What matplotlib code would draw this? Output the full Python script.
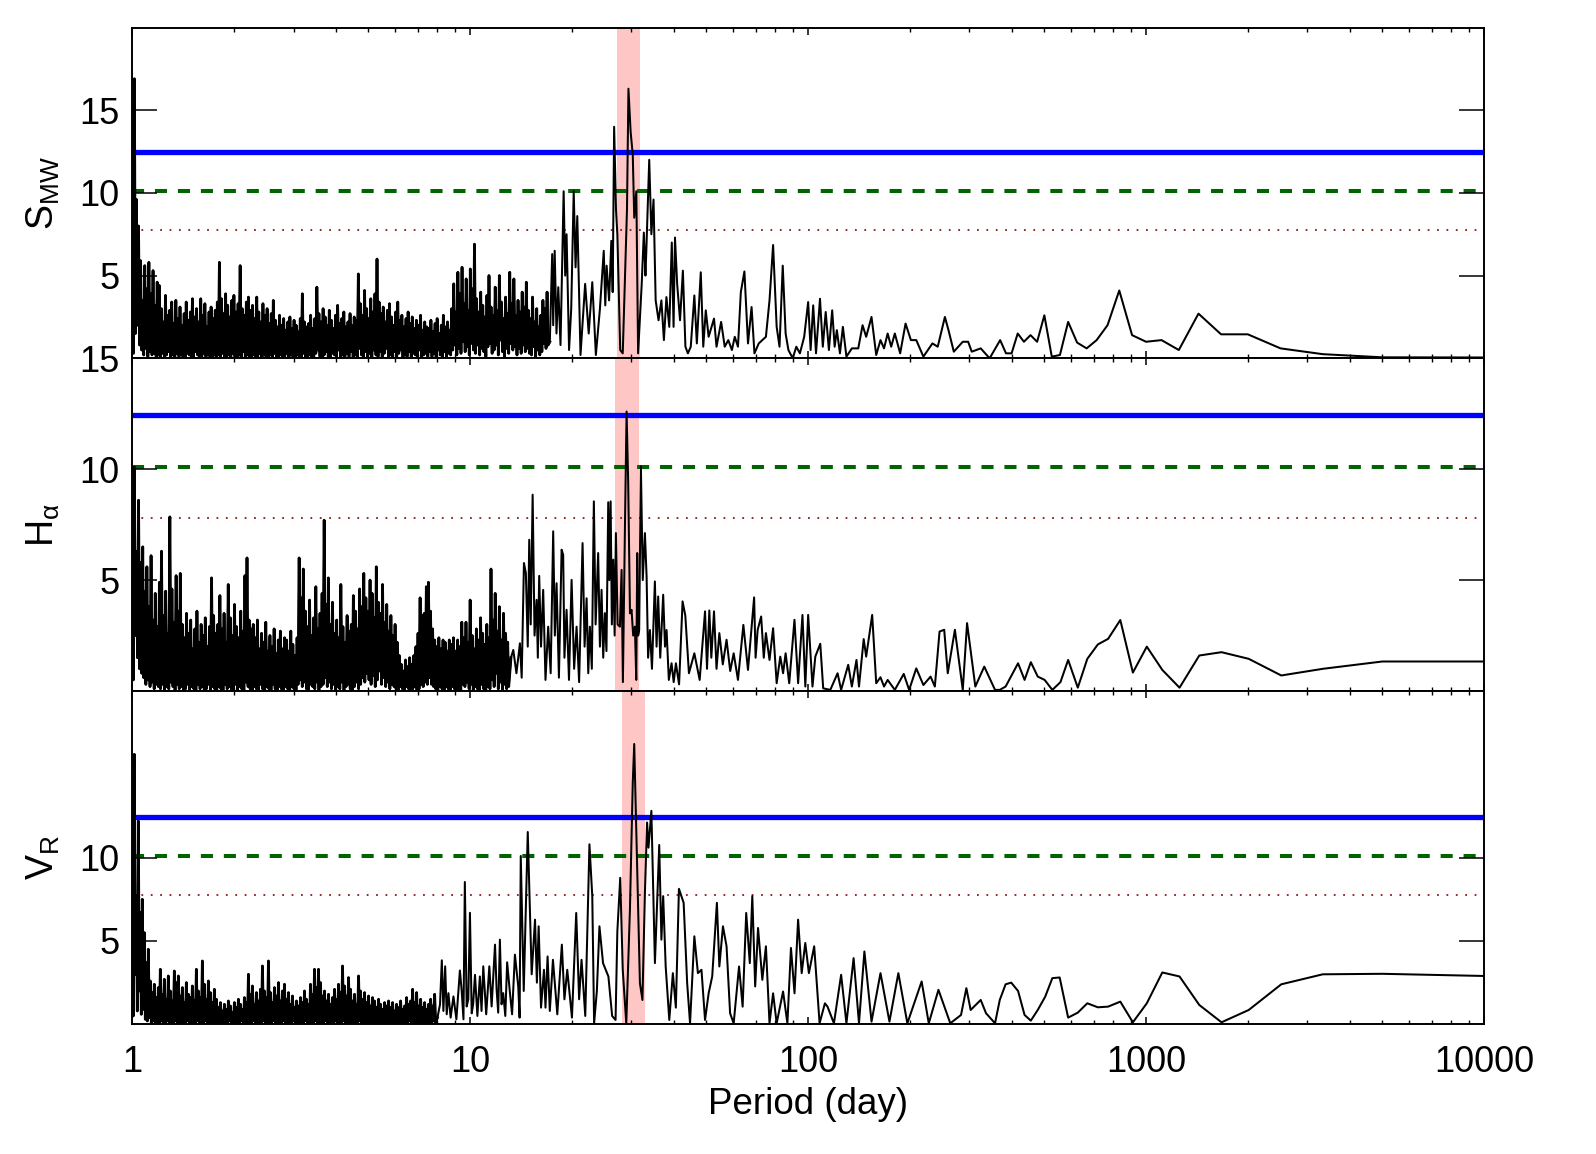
import numpy as np
import matplotlib
matplotlib.use("Agg")
import matplotlib.pyplot as plt
from matplotlib.ticker import LogLocator, NullLocator, FixedLocator, FuncFormatter, NullFormatter

plt.rcParams['font.family'] = ['Liberation Sans', 'DejaVu Sans']
plt.rcParams['mathtext.fontset'] = 'custom'
plt.rcParams['mathtext.rm'] = 'Liberation Sans'
plt.rcParams['mathtext.it'] = 'Liberation Sans:italic'
plt.rcParams['mathtext.sf'] = 'Liberation Sans'

# ---------------- data ----------------
panel_labels = [r'S$_{\rm MW}$', r'H$_{\rm α}$', r'V$_{\rm R}$']
x_tick_values = [1, 10, 100, 1000, 10000]
x_tick_labels = ['1', '10', '100', '1000', '10000']
fap_levels = [12.45, 10.12, 7.78]          # blue solid, green dashed, red dotted
y_limits = [20, 15, 20]
y_ticks = [[5, 10, 15], [5, 10, 15], [5, 10]]
rotation_band = [(27.2, 31.9), (26.8, 31.6), (28.2, 33.0)]

# ---- S_MW ----
smw_forest_range = (1.0, 17.0)
smw_forest_peaks = [6.4, 16.9, 9.6, 8.0, 5.9, 3.5, 5.6, 4.2, 5.8, 3.9, 5.3, 3.2, 4.6,
    4.4, 3.0, 2.2, 3.8, 2.6, 2.9, 3.4, 2.1, 3.5, 2.4, 3.1, 2.0, 2.7, 3.4, 2.3, 2.8, 3.6, 2.5, 3.0, 2.2, 3.6, 2.6, 3.3, 1.9, 2.8, 3.1, 2.4,
    2.9, 3.4, 5.8, 3.6, 2.7, 3.9, 3.2, 2.5, 3.5, 3.8, 2.8, 3.3, 5.6, 3.0, 2.6, 3.4, 3.7, 2.9,
    3.2, 2.4, 3.7, 2.8, 2.2, 3.3, 2.6, 3.0, 2.1, 2.7, 3.5, 2.3, 1.9, 2.6, 2.0, 2.4, 1.7, 2.2, 2.5, 1.8, 2.3, 2.0, 1.6, 2.4, 3.9, 2.2, 1.9,
    2.1, 2.6, 1.8, 2.4, 4.3, 2.7, 2.2, 3.0, 2.5, 2.0, 2.9, 2.3, 1.8, 2.6, 3.2, 2.1, 2.4, 2.8, 1.9, 2.2, 2.7, 2.0, 2.5, 2.3,
    5.1, 3.3, 2.6, 4.1, 3.0, 2.4, 3.6, 2.8, 3.9, 6.0, 3.4, 2.7, 3.1, 2.2, 2.9, 3.3, 2.5, 2.0, 2.8, 3.4, 2.3, 2.6, 1.9, 2.4, 2.8, 2.1, 2.5, 1.8, 2.3, 2.0, 2.6, 1.7, 2.2, 1.9,
    1.8, 2.3, 1.6, 2.1, 2.4, 1.5, 2.0, 2.6, 1.9, 2.2, 1.7,
    3.0, 4.5, 2.8, 5.2, 3.9, 5.5, 3.3, 4.8, 2.9, 5.4, 4.2, 6.9, 3.6, 2.8, 4.0, 3.2, 2.5, 3.8, 5.0, 3.1, 2.6, 4.3, 2.9, 5.0, 3.4, 2.4, 3.7, 2.7, 5.2, 3.3, 4.8, 2.6, 3.5, 2.8, 4.0, 3.1,
    4.6, 2.9, 2.4, 3.7, 2.2, 3.0, 1.9, 2.6, 3.5, 3.0, 4.0]
smw_forest_troughs = [0.3, 1.5, 2.0, 0.8, 0.5, 0.2, 0.6, 0.1, 0.4, 0.2, 0.3, 0.1, 0.2,
    0.1, 0.3, 0.0, 0.2, 0.4, 0.1, 0.2, 0.0, 0.3, 0.1, 0.2, 0.0, 0.1, 0.3, 0.2, 0.0, 0.1, 0.4, 0.2, 0.1, 0.0, 0.3, 0.1, 0.2, 0.0, 0.1, 0.2,
    0.0, 0.2, 0.1, 0.3, 0.0, 0.1, 0.2, 0.0, 0.3, 0.1, 0.0, 0.2, 0.1, 0.4, 0.0, 0.2, 0.1, 0.0,
    0.2, 0.0, 0.1, 0.3, 0.0, 0.2, 0.1, 0.0, 0.2, 0.1, 0.3, 0.0, 0.1, 0.2, 0.0, 0.1, 0.3, 0.0, 0.2, 0.1, 0.0, 0.2, 0.1, 0.0, 0.3, 0.1, 0.0,
    0.2, 0.1, 0.0, 0.3, 0.5, 0.1, 0.0, 0.2, 0.4, 0.1, 0.0, 0.3, 0.2, 0.0, 0.5, 0.1, 0.2, 0.0, 0.3, 0.1, 0.4, 0.0, 0.2, 0.1,
    0.6, 0.2, 0.0, 0.4, 0.1, 0.3, 0.0, 0.5, 0.2, 0.1, 0.4, 0.0, 0.3, 0.6, 0.1, 0.2, 0.0, 0.4, 0.1, 0.3, 0.5, 0.0, 0.2, 0.1, 0.4, 0.0, 0.3, 0.2, 0.1, 0.5, 0.0, 0.2, 0.3, 0.1,
    0.4, 0.1, 0.3, 0.0, 0.5, 0.2, 0.1, 0.4, 0.0, 0.3, 0.2,
    0.5, 0.8, 0.2, 0.6, 0.3, 1.0, 0.4, 0.7, 0.2, 0.9, 0.5, 0.3, 0.8, 0.2, 0.6, 0.4, 0.1, 0.7, 0.9, 0.3, 0.5, 0.8, 0.2, 1.1, 0.4, 0.1, 0.6, 0.3, 0.9, 0.5, 0.7, 0.2, 0.6, 0.3, 0.8, 0.4,
    0.6, 0.3, 0.2, 0.7, 0.1, 0.5, 0.2, 0.4, 0.9, 0.6, 0.8]
smw_period = [17.2, 17.48, 17.6, 17.78, 18.0, 18.22, 18.5, 18.9, 19.1, 19.28,
    19.61, 19.9, 20.24, 20.5, 20.74, 21.2, 21.88, 22.42, 22.97, 23.54,
    24.2, 24.84, 25.1, 25.33, 25.76, 26.15, 26.4, 26.66, 27.0, 27.25,
    27.79, 28.27, 28.83, 29.1, 29.39, 29.83, 30.27, 30.57, 31.01, 31.39,
    32.17, 32.64, 33.0, 33.2, 33.86, 34.36, 34.87, 35.38, 36.08, 36.79,
    37.42, 38.07, 38.82, 39.49, 39.97, 40.36, 40.96, 41.77, 42.59, 43.33,
    44.07, 44.94, 46.05, 46.84, 48.11, 48.93, 49.78, 50.76, 52.65, 53.56,
    55.27, 56.64, 58.04, 59.48, 60.65, 61.99, 63.21, 64.77, 66.37, 68.01,
    69.35, 71.42, 74.99, 76.85, 78.75, 80.69, 82.28, 84.10, 85.77, 87.42,
    90.01, 92.26, 94.54, 97.34, 100.0, 101.7, 103.5, 105.5, 108.4, 110.5,
    112.7, 115.2, 117.8, 119.8, 121.6, 124.2, 126.7, 129.8, 134.7, 140.7,
    144.9, 148.5, 154.0, 159.0, 163.7, 167.7, 171.9, 176.1, 180.5, 187.2,
    194.2, 201.4, 208.9, 219.3, 233.2, 241.8, 253.9, 260.2, 269.8, 286.8,
    297.5, 304.9, 324.1, 344.4, 370, 385, 400, 417, 435, 455,
    476, 500, 526, 556, 588, 625, 667, 714, 769, 833,
    909, 1000, 1111, 1250, 1429, 1667, 2000, 2500, 3333, 5000,
    10000]
smw_power = [1.0, 6.3, 2.0, 6.5, 1.5, 4.3, 0.8, 10.1, 5.0, 7.5,
    0.5, 3.0, 10.1, 5.5, 8.6, 0.2, 4.5, 1.5, 4.6, 0.2,
    3.0, 6.5, 3.2, 5.6, 3.5, 7.1, 4.0, 14.0, 9.0, 7.5,
    0.5, 0.3, 6.3, 9.0, 16.3, 13.7, 12.3, 8.5, 10.1, 0.3,
    4.5, 7.6, 5.0, 6.5, 12.0, 7.5, 9.6, 3.5, 2.3, 3.5,
    1.1, 3.7, 1.9, 7.0, 1.9, 7.3, 4.5, 2.3, 5.3, 0.7,
    0.3, 0.7, 3.8, 0.9, 5.2, 0.7, 2.9, 1.3, 2.4, 0.7,
    2.2, 0.7, 1.1, 0.5, 1.3, 0.7, 4.0, 5.25, 0.9, 3.1,
    0.3, 0.9, 1.3, 3.5, 6.85, 1.9, 0.7, 5.6, 1.5, 0.5,
    0.0, 0.7, 0.3, 1.3, 3.4, 0.5, 3.2, 0.3, 3.6, 0.7,
    2.8, 0.5, 2.9, 0.7, 1.7, 0.3, 1.9, 0.1, 0.6, 0.6,
    2.0, 1.3, 2.5, 0.2, 1.1, 0.6, 1.5, 0.7, 1.5, 0.3,
    2.1, 1.1, 1.1, 0.1, 0.9, 0.7, 2.5, 1.7, 0.4, 1.0,
    1.0, 0.4, 0.6, 0.0, 1.1, 0.3, 0.3, 1.5, 1.0, 1.4,
    1.0, 2.6, 0.1, 0.2, 2.2, 0.95, 0.6, 1.1, 2.0, 4.1,
    1.4, 1.0, 1.1, 0.5, 2.7, 1.45, 1.45, 0.6, 0.25, 0.06,
    0.05]

# ---- H_alpha ----
ha_forest_range = (1.0, 13.0)
ha_forest_peaks = [5.0, 10.1, 6.3, 8.6, 5.8, 6.5, 4.5, 5.6, 3.8, 6.1, 3.2, 4.4, 2.9,
    4.9, 6.3, 3.4, 4.5, 2.6, 7.85, 4.6, 3.1, 5.2, 3.6,
    5.3, 3.0, 2.4, 3.5, 2.6, 3.2, 1.9, 2.8, 3.6, 2.2, 3.0, 2.5, 3.3, 2.0, 2.9, 5.1, 3.4,
    2.6, 3.0, 4.3, 2.8, 3.5, 2.2, 4.8, 3.3, 2.5, 3.9, 2.9, 2.4, 3.6, 2.7, 5.2, 6.0, 3.2, 2.8,
    3.0, 2.4, 3.2, 1.9, 2.6, 2.2, 3.1, 1.8, 2.5, 2.0, 2.8, 1.7, 2.3, 2.7, 1.9, 2.4,
    2.3, 1.8, 2.7, 2.1, 1.6, 2.4, 6.0, 4.2, 5.5, 3.6, 2.9, 4.1, 2.5, 3.3, 4.7, 2.8, 3.5, 4.4,
    7.7, 3.9, 5.1, 3.0, 4.0, 2.6, 3.2, 2.4, 4.8, 2.9, 2.2, 3.4, 2.7, 3.0, 4.3, 3.6, 2.8,
    4.6, 3.8, 5.3, 4.2, 3.6, 5.0, 4.4, 3.3, 5.6, 4.0, 3.5, 4.8, 3.1, 3.9, 2.7, 3.4, 2.5,
    3.0, 2.2, 1.6, 1.2, 0.9, 1.4, 1.1, 1.5, 1.2, 1.6, 2.0, 2.6, 4.2, 3.4, 3.5, 4.7, 4.9,
    3.6, 2.8, 2.3, 2.0, 2.4, 1.9, 2.3, 2.2, 1.8, 2.3, 2.1, 2.4, 1.8, 2.3, 2.0, 3.1, 2.4,
    3.1, 2.2, 4.1, 2.5, 1.9, 2.8, 2.3, 3.3, 2.6, 2.1, 3.0, 2.4, 5.5, 3.2, 4.4, 2.7, 3.8, 2.3, 3.5, 2.6, 2.2]
ha_forest_troughs = [0.5, 2.5, 1.5, 1.0, 0.8, 0.6, 0.3, 0.5, 0.2, 0.4, 0.1, 0.3, 0.2,
    0.1, 0.3, 0.0, 0.2, 0.1, 0.4, 0.2, 0.0, 0.3, 0.1,
    0.2, 0.0, 0.1, 0.3, 0.0, 0.2, 0.1, 0.0, 0.3, 0.1, 0.2, 0.0, 0.1, 0.3, 0.0, 0.2, 0.1,
    0.0, 0.2, 0.1, 0.0, 0.3, 0.1, 0.2, 0.0, 0.1, 0.3, 0.0, 0.2, 0.1, 0.0, 0.4, 0.2, 0.1, 0.0,
    0.2, 0.1, 0.0, 0.3, 0.1, 0.0, 0.2, 0.1, 0.0, 0.3, 0.1, 0.0, 0.2, 0.1, 0.0, 0.2,
    0.1, 0.0, 0.2, 0.1, 0.0, 0.3, 0.5, 0.2, 0.4, 0.1, 0.0, 0.3, 0.2, 0.1, 0.4, 0.0, 0.2, 0.3,
    0.6, 0.2, 0.4, 0.1, 0.3, 0.0, 0.2, 0.1, 0.4, 0.0, 0.2, 0.3, 0.1, 0.0, 0.2, 0.4, 0.1,
    0.3, 0.6, 0.4, 0.8, 0.5, 0.3, 0.7, 0.2, 0.5, 0.9, 0.3, 0.6, 0.2, 0.4, 0.1, 0.3, 0.2,
    0.1, 0.0, 0.2, 0.1, 0.0, 0.2, 0.1, 0.0, 0.1, 0.2, 0.0, 0.1, 0.3, 0.2, 0.4, 0.3, 0.6,
    0.3, 0.2, 0.1, 0.0, 0.2, 0.1, 0.0, 0.2, 0.1, 0.0, 0.2, 0.1, 0.0, 0.1, 0.0, 0.3, 0.2,
    0.4, 0.1, 0.3, 0.0, 0.2, 0.1, 0.0, 0.3, 0.1, 0.0, 0.2, 0.1, 0.5, 0.2, 0.8, 0.1, 0.4, 0.0, 0.3, 0.1, 0.2]
ha_period = [13.2, 13.41, 13.7, 14.03, 14.2, 14.42, 14.61, 14.8, 14.95, 15.1,
    15.30, 15.5, 15.72, 15.85, 16.00, 16.2, 16.44, 16.7, 17.01, 17.3,
    17.60, 17.8, 18.01, 18.3, 18.64, 18.84, 19.0, 19.28, 19.6, 19.95,
    20.3, 20.64, 21.0, 21.50, 21.8, 22.10, 22.35, 22.60, 22.9, 23.22,
    23.5, 23.91, 24.2, 24.47, 24.75, 25.03, 25.3, 25.61, 25.8, 26.03,
    26.25, 26.50, 26.75, 26.98, 27.3, 27.73, 28.05, 28.3, 28.69, 29.02,
    29.34, 29.7, 30.02, 30.35, 30.71, 31.0, 31.20, 31.4, 31.62, 31.99,
    32.4, 32.88, 33.26, 33.6, 34.02, 34.5, 35.19, 35.6, 35.99, 36.5,
    37.24, 37.7, 38.11, 38.7, 39.43, 40.0, 40.61, 41.5, 42.5, 43.3,
    44.38, 46.05, 47.75, 49.53, 50.2, 51.0, 51.7, 52.65, 53.56, 54.6,
    55.9, 57.35, 58.8, 60.2, 61.99, 64.31, 66.37, 69.2, 69.9, 70.9,
    72.6, 73.9, 74.99, 76.85, 78.75, 80.69, 82.7, 84.3, 85.77, 87.9,
    91.1, 93.4, 96.2, 98.1, 100.0, 103.0, 105.0, 108.6, 110.8, 116.3,
    122.2, 125.2, 131.4, 134.7, 139.0, 141.4, 146.0, 148.5, 154.7, 159.0,
    163.7, 167.7, 171.9, 180.5, 191.8, 199.0, 208.9, 219.3, 230.3, 237.1,
    244.8, 252.7, 258.9, 271.8, 286.8, 295.3, 312.4, 332.0, 357.3, 369,
    384, 418, 437, 456, 478, 501, 528, 558, 588, 628,
    670, 720, 772, 839, 914, 1005, 1117, 1256, 1437, 1672,
    2013, 2512, 3333, 5000, 10000]
ha_power = [1.5, 1.85, 0.8, 2.15, 0.6, 5.77, 5.31, 2.0, 6.82, 3.0,
    8.85, 2.5, 4.11, 1.5, 5.19, 2.0, 4.56, 0.5, 2.9, 0.8,
    7.2, 2.5, 4.86, 0.6, 6.37, 6.14, 1.5, 3.66, 0.5, 5.01,
    1.0, 2.9, 0.4, 6.67, 2.0, 4.18, 0.8, 2.9, 1.0, 8.55,
    3.0, 6.22, 2.0, 4.56, 1.5, 3.51, 1.8, 8.51, 5.0, 8.55,
    3.0, 5.92, 2.5, 7.12, 3.0, 2.9, 5.46, 0.4, 7.27, 12.6,
    9.38, 3.5, 3.66, 2.5, 2.9, 0.5, 6.22, 2.5, 2.75, 10.13,
    5.0, 7.12, 5.16, 1.5, 2.75, 1.0, 4.94, 2.0, 4.26, 1.5,
    4.34, 2.0, 2.75, 0.5, 1.25, 0.4, 1.25, 0.3, 4.04, 3.4,
    0.8, 1.7, 0.5, 3.59, 1.0, 3.63, 1.5, 3.59, 1.0, 2.61,
    1.2, 2.31, 0.9, 1.70, 0.5, 2.98, 0.95, 4.22, 1.5, 2.76,
    3.36, 1.5, 2.61, 1.40, 2.83, 0.35, 1.55, 0.8, 1.70, 0.35,
    3.21, 0.35, 3.43, 0.20, 3.43, 0.20, 1.55, 2.13, 0.12, 0.05,
    0.80, 0.05, 1.18, 0.20, 1.40, 0.20, 2.34, 1.55, 3.43, 0.35,
    0.62, 0.20, 0.50, 0.05, 0.77, 0.05, 1.02, 0.27, 0.65, 0.2,
    2.68, 2.76, 0.80, 2.76, 0.05, 3.06, 0.20, 1.10, 0.05, 0.05,
    0.2, 1.25, 0.5, 1.3, 0.65, 0.5, 0.05, 0.4, 1.4, 0.15,
    1.45, 2.1, 2.35, 3.2, 0.83, 2.0, 0.95, 0.15, 1.6, 1.75,
    1.45, 0.7, 1.0, 1.33, 1.33]

# ---- V_R ----
vr_forest_range = (1.0, 7.9)
vr_forest_peaks = [8.7, 16.2, 7.7, 12.2, 6.7, 7.5, 5.5, 3.7, 4.5, 2.6, 1.9, 2.4, 1.6,
    2.2, 3.3, 1.8, 2.7, 1.5, 2.9, 2.0, 1.4, 3.2, 2.5, 2.9,
    1.7, 2.2, 1.3, 2.5, 1.8, 1.6, 2.3, 1.4, 3.3, 2.0, 1.6, 3.8, 2.4, 1.5, 2.6, 1.9, 1.3,
    2.1, 1.5, 1.0, 1.3, 0.8, 1.2, 0.9, 1.4, 1.1, 0.7, 1.3, 1.0, 1.5, 1.2, 0.9, 1.6, 1.3, 3.0,
    1.8, 2.3, 1.2, 1.9, 1.4, 2.1, 3.5, 2.0, 1.6, 3.8, 1.9, 1.3, 2.2, 1.7, 2.5, 1.4, 2.0,
    2.4, 1.5, 1.9, 1.2, 1.7, 1.0, 1.4, 1.1, 1.6, 1.3, 2.0, 1.5, 1.2, 2.4, 1.8, 3.3, 2.2, 3.3,
    2.5, 1.7, 2.0, 1.4, 1.8, 1.2, 1.6, 2.1, 1.5, 2.4, 1.9, 3.5, 2.3, 1.7, 2.8, 2.1, 1.4,
    1.8, 1.2, 2.9, 2.0, 1.5, 1.9, 1.3, 1.7, 1.1, 1.6, 1.4, 1.0, 1.5, 1.2, 0.9, 1.3, 1.1, 1.4,
    1.0, 1.3, 0.8, 1.2, 1.0, 1.4, 0.9, 1.1, 1.6, 1.2, 1.4, 2.1, 1.3, 1.9, 1.1, 1.5, 1.0, 1.3, 0.9, 1.2, 1.5, 1.1, 1.8]
vr_forest_troughs = [0.5, 3.0, 0.8, 2.0, 0.6, 0.9, 0.3, 0.2, 0.4, 0.1, 0.2, 0.0, 0.1,
    0.0, 0.2, 0.1, 0.0, 0.2, 0.1, 0.0, 0.1, 0.2, 0.0, 0.1,
    0.0, 0.1, 0.0, 0.2, 0.1, 0.0, 0.1, 0.0, 0.2, 0.1, 0.0, 0.1, 0.2, 0.0, 0.1, 0.0, 0.1,
    0.0, 0.1, 0.0, 0.1, 0.0, 0.1, 0.0, 0.2, 0.0, 0.1, 0.0, 0.1, 0.0, 0.2, 0.0, 0.1, 0.0, 0.1,
    0.0, 0.2, 0.1, 0.0, 0.1, 0.0, 0.2, 0.1, 0.0, 0.1, 0.0, 0.2, 0.1, 0.0, 0.1, 0.0, 0.2,
    0.1, 0.0, 0.1, 0.0, 0.2, 0.0, 0.1, 0.0, 0.1, 0.0, 0.2, 0.1, 0.0, 0.1, 0.0, 0.2, 0.1, 0.0,
    0.1, 0.0, 0.2, 0.0, 0.1, 0.0, 0.1, 0.2, 0.0, 0.1, 0.0, 0.2, 0.1, 0.0, 0.1, 0.0, 0.1,
    0.0, 0.1, 0.2, 0.0, 0.1, 0.0, 0.1, 0.0, 0.1, 0.0, 0.1, 0.0, 0.1, 0.0, 0.0, 0.1, 0.0, 0.1,
    0.0, 0.1, 0.0, 0.1, 0.0, 0.1, 0.0, 0.1, 0.0, 0.2, 0.0, 0.1, 0.0, 0.1, 0.0, 0.1, 0.0, 0.1, 0.0, 0.1, 0.0, 0.2, 0.1]
vr_period = [8.0, 8.14, 8.24, 8.33, 8.43, 8.52, 8.62, 8.75, 8.92, 9.1,
    9.32, 9.43, 9.55, 9.64, 9.76, 9.87, 9.98, 10.1, 10.2, 10.33,
    10.5, 10.68, 10.8, 10.93, 11.15, 11.39, 11.57, 11.84, 11.97, 12.1,
    12.24, 12.38, 12.52, 12.7, 12.86, 13.11, 13.3, 13.56, 13.87, 14.0,
    14.11, 14.4, 14.8, 15.2, 15.55, 15.75, 15.94, 16.2, 16.53, 16.7,
    16.94, 17.2, 17.57, 18.1, 18.67, 19.0, 19.37, 20.0, 20.59, 21.0,
    21.35, 21.9, 22.53, 22.97, 23.26, 23.7, 24.12, 24.72, 25.64, 26.3,
    26.92, 27.25, 27.79, 28.27, 28.96, 29.69, 30.27, 30.57, 31.17, 31.78,
    32.33, 32.88, 33.37, 33.69, 34.36, 35.2, 36.25, 36.79, 37.24, 37.88,
    38.82, 39.78, 40.6, 41.46, 42.81, 43.85, 44.72, 46.05, 47.18, 48.34,
    49.53, 50.76, 52.01, 53.70, 54.6, 55.96, 57.35, 58.75, 60.2, 62.44,
    63.99, 65.57, 67.19, 68.35, 69.70, 71.08, 73.18, 74.99, 76.85, 78.75,
    80.69, 84.29, 86.81, 88.95, 91.13, 93.38, 95.69, 98.07, 100.5, 104.2,
    108.1, 112.1, 114.1, 119.2, 125.2, 129.8, 136.3, 141.4, 146.7, 154.0,
    163.7, 174.0, 184.9, 196.6, 216.7, 227.5, 243.0, 263.4, 283.4, 293.9,
    302.6, 324.1, 336.1, 357.3, 369, 384, 399, 418, 437, 456,
    478, 503, 528, 555, 588, 628, 670, 720, 772, 839,
    914, 1005, 1117, 1256, 1437, 1672, 2013, 2512, 3333, 5000,
    10000]
vr_power = [0.4, 1.2, 3.84, 0.8, 3.48, 0.6, 1.87, 0.4, 1.67, 0.3,
    3.23, 2.07, 0.3, 8.54, 1.07, 1.5, 6.69, 0.66, 1.2, 2.97,
    0.5, 2.87, 0.8, 3.48, 0.6, 3.48, 1.07, 4.78, 2.07, 0.7,
    5.08, 1.2, 1.87, 0.5, 3.72, 1.87, 0.6, 4.18, 2.27, 0.4,
    10.10, 2.0, 11.54, 3.0, 6.28, 2.5, 5.88, 1.0, 3.27, 1.0,
    4.07, 0.8, 3.87, 0.6, 4.78, 1.5, 3.27, 0.4, 6.68, 1.5,
    3.87, 0.5, 10.8, 7.69, 0.06, 2.0, 5.88, 3.67, 2.87, 0.5,
    0.26, 5.58, 8.79, 3.27, 0.06, 6.88, 14.52, 16.82, 9.50, 2.47,
    1.46, 7.89, 12.11, 10.6, 12.81, 3.67, 10.76, 5.08, 7.69, 3.47,
    0.26, 3.07, 1.0, 8.13, 7.29, 2.47, 0.06, 5.28, 3.07, 3.27,
    0.26, 1.86, 2.87, 7.29, 3.47, 5.88, 4.68, 0.66, 0.06, 3.47,
    1.06, 6.68, 3.67, 7.69, 2.27, 5.78, 2.67, 4.68, 0.06, 1.86,
    0.06, 1.97, 0.06, 4.58, 1.86, 6.28, 3.07, 4.88, 3.07, 4.68,
    0.06, 1.26, 1.06, 0.06, 2.97, 0.06, 3.97, 0.06, 4.37, 0.16,
    3.07, 0.16, 3.07, 0.06, 2.57, 0.06, 2.07, 0.06, 0.56, 2.17,
    0.86, 1.46, 0.66, 0.06, 1.46, 2.4, 2.5, 2.0, 0.56, 0.22,
    0.86, 1.66, 2.77, 2.81, 0.4, 0.7, 1.26, 1.02, 1.06, 1.36,
    0.12, 1.26, 3.11, 2.87, 1.16, 0.12, 0.86, 2.4, 3.0, 3.03,
    2.9]


def assemble(frange, peaks, troughs, period, power):
    n = min(len(peaks), len(troughs))
    dense = np.empty(2 * n)
    dense[0::2] = peaks[:n]
    dense[1::2] = troughs[:n]
    dense_p = np.geomspace(frange[0], frange[1], 2 * n)
    m = min(len(period), len(power))
    x = np.concatenate([dense_p, np.asarray(period[:m], float)])
    y = np.concatenate([dense, np.asarray(power[:m], float)])
    return x, y, 2 * n


series = [
    assemble(smw_forest_range, smw_forest_peaks, smw_forest_troughs, smw_period, smw_power),
    assemble(ha_forest_range, ha_forest_peaks, ha_forest_troughs, ha_period, ha_power),
    assemble(vr_forest_range, vr_forest_peaks, vr_forest_troughs, vr_period, vr_power),
]

# ---------------- figure ----------------
W, H = 1596, 1154
fig = plt.figure(figsize=(W / 100, H / 100), dpi=100)
left_px, right_px = 132.3, 1484.0
edges_px = [27.5, 358.3, 691.0, 1024.3]

axes = []
for i in range(3):
    top, bot = edges_px[i], edges_px[i + 1]
    ax = fig.add_axes([left_px / W, 1 - bot / H, (right_px - left_px) / W, (bot - top) / H])
    axes.append(ax)

TICK_FS = 26
for i, ax in enumerate(axes):
    x, y, nd = series[i]
    lo, hi = rotation_band[i]
    ax.axvspan(lo, hi, color='#ffc6c6', lw=0, zorder=0)
    ax.axhline(fap_levels[0], color='#0000ff', lw=3.8, zorder=1)
    ax.axhline(fap_levels[1], color='#006400', lw=2.9, ls=(0, (3.0, 2.7)), zorder=1)
    ax.axhline(fap_levels[2], color='#8b1a1a', lw=1.3, ls=(0, (1.0, 4.2)), zorder=1)
    ax.plot(x, y, color='black', lw=1.45, zorder=3)
    # dense low-period part: many overlapping points in the original -> heavier ink
    ax.plot(x[:nd + 1], y[:nd + 1], color='black', lw=2.0, zorder=3)

    ax.set_xscale('log')
    ax.set_xlim(1, 10000)
    ax.set_ylim(0, y_limits[i])
    ax.xaxis.set_major_locator(FixedLocator(x_tick_values))
    ax.xaxis.set_minor_locator(LogLocator(base=10, subs=np.arange(2, 10), numticks=100))
    ax.yaxis.set_major_locator(FixedLocator(y_ticks[i]))
    ax.yaxis.set_minor_locator(NullLocator())
    ax.tick_params(axis='x', which='major', direction='in', length=4.8, width=1.1,
                   top=True, bottom=True, labelsize=TICK_FS, pad=15)
    ax.tick_params(axis='x', which='minor', direction='in', length=2.6, width=1.0,
                   top=True, bottom=True)
    ax.tick_params(axis='y', which='major', direction='in', length=18, width=1.1,
                   left=True, right=True, labelsize=TICK_FS, pad=9)
    for sp in ax.spines.values():
        sp.set_linewidth(1.4)
    ax.set_ylabel(panel_labels[i], fontsize=27)
    ax.yaxis.set_label_coords(-0.052, 0.5)
    if i < 2:
        ax.xaxis.set_major_formatter(NullFormatter())
    else:
        ax.xaxis.set_major_formatter(FuncFormatter(
            lambda v, pos: x_tick_labels[x_tick_values.index(int(round(v)))] if int(round(v)) in x_tick_values else ''))
    ax.xaxis.set_minor_formatter(NullFormatter())

axes[2].set_xlabel('Period (day)', fontsize=26.5, labelpad=5)

fig.savefig('out.png', dpi=100)
